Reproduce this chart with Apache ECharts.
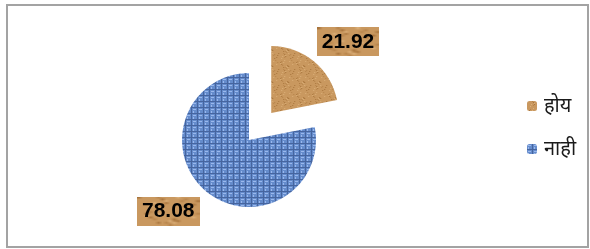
<!DOCTYPE html>
<html>
<head>
<meta charset="utf-8">
<script src="https://cdn.jsdelivr.net/npm/echarts@6/dist/echarts.min.js"></script>
<style>
  html, body { margin: 0; padding: 0; background: #fff; }
  #chart { width: 590px; height: 249px; }
</style>
</head>
<body>
<div id="chart"></div>
<script>
// values
const categories = ['होय', 'नाही']
const values = [21.92, 78.08]

// small canvas textures: cork-like brown, woven blue
function makeBrown () {
  const c = document.createElement('canvas')
  c.width = 16; c.height = 16
  const g = c.getContext('2d')
  g.fillStyle = '#c9985f'
  g.fillRect(0, 0, 16, 16)
  const dark = ['#a8743c', '#b7844b', '#dcb07a']
  for (let i = 0; i < 16; i++) {
    for (let j = 0; j < 16; j++) {
      const h = (i * 37 + j * 91 + i * j * 13) % 23
      if (h < 3) { g.fillStyle = dark[h]; g.fillRect(i, j, 1, 1) }
    }
  }
  return c
}

function makeBlue () {
  const c = document.createElement('canvas')
  c.width = 6; c.height = 6
  const g = c.getContext('2d')
  g.fillStyle = '#658ccc'
  g.fillRect(0, 0, 6, 6)
  g.fillStyle = '#46659f'
  g.fillRect(0, 5, 6, 1)
  g.fillRect(5, 0, 1, 6)
  g.fillStyle = '#9ab8ec'
  g.fillRect(1, 1, 3, 1)
  g.fillRect(1, 3, 1, 2)
  return c
}

const brownTex = makeBrown()
const blueTex = makeBlue()
const fills = [
  { image: brownTex, repeat: 'repeat' },
  { image: blueTex, repeat: 'repeat' }
]

const chart = echarts.init(document.getElementById('chart'), null, { renderer: 'canvas' })

const option = {
  animation: false,
  backgroundColor: '#fff',
  graphic: [
    {
      type: 'rect',
      shape: { x: 7, y: 5, width: 581, height: 242 },
      style: { fill: 'none', stroke: '#a3a3a3', lineWidth: 2 },
      silent: true
    }
  ],
  legend: {
    orient: 'vertical',
    left: 522,
    top: 91,
    itemWidth: 10,
    itemHeight: 10,
    itemGap: 23,
    textStyle: {
      fontSize: 20,
      color: '#1a1a1a',
      fontFamily: 'Noto Sans, sans-serif',
      padding: [0, 0, 0, 2]
    },
    data: categories
  },
  series: [
    {
      type: 'pie',
      center: [249, 140],
      radius: 67,
      startAngle: 90,
      clockwise: true,
      selectedMode: 'single',
      selectedOffset: 35,
      avoidLabelOverlap: false,
      emphasis: { disabled: true },
      label: {
        show: true,
        position: 'outside',
        formatter: p => p.value.toFixed(2),
        fontFamily: 'Liberation Sans, Arial, sans-serif',
        fontWeight: 'bold',
        fontSize: 21,
        color: '#000',
        backgroundColor: { image: brownTex },
        padding: [4, 5, 4, 5]
      },
      labelLine: { show: false, length: 25, length2: 0 },
      // nudge labels back toward the pie, like the excel best-fit spot
      labelLayout: p => ({ dx: p.dataIndex === 0 ? -18 : 14 }),
      data: categories.map((name, i) => ({
        name: name,
        value: values[i],
        selected: i === 0,
        itemStyle: { color: fills[i] }
      }))
    }
  ]
}

chart.setOption(option)
</script>
</body>
</html>
